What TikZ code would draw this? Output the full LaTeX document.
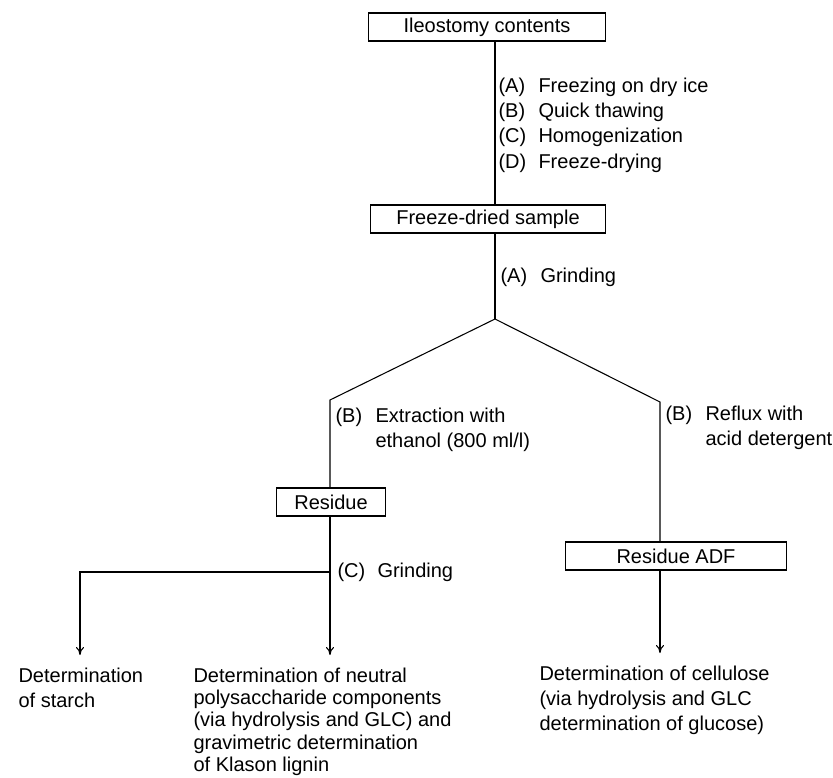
\documentclass[tikz,border=0pt]{standalone}
\usepackage{fontspec}
\setmainfont{Liberation Sans}
\usetikzlibrary{positioning,calc,arrows.meta}
\tikzset{box/.style={draw,line width=0.9pt,minimum height=21pt,inner sep=2pt,align=center},
         steps/.style={anchor=west,align=left,inner sep=0pt},
         result/.style={anchor=north west,align=left,inner sep=0pt}
}
\tikzstyle{arrow} = [line width=0.8pt,-{To[length=6pt,width=6pt]},shorten >=9pt]
\newcommand{\stp}[1]{\makebox[30pt][l]{(#1)}}
\newcommand{\stpgap}{\hspace*{30pt}}

\begin{document}
\begin{tikzpicture}[x=0.75pt,y=-0.75pt,line width=0.8pt,
    every node/.style={font=\fontsize{15}{19}\selectfont}]
\useasboundingbox (0,0) rectangle (833,778);

\node[box,minimum width=178pt] (ileo) at (487,27) {Ileostomy contents};
\node[box,minimum width=176pt] (dried) at (488,219) {Freeze-dried sample};
\coordinate (apex) at (495,319);
\coordinate (lbend) at (330,400);
\coordinate (rbend) at (660,402);
\node[box,minimum width=82pt] (resid) at (331,502) {Residue};
\node[box,minimum width=166pt] (adf) at (676,556) {Residue ADF};
\coordinate (sdrop) at (80,572);

\node[steps] (prep) at (498,125) {\stp{A}Freezing on dry ice\\\stp{B}Quick thawing\\\stp{C}Homogenization\\\stp{D}Freeze-drying};
\node[steps] (grindA) at (500,277) {\stp{A}Grinding};
\node[steps] (extr) at (335,430) {\stp{B}Extraction with\\\stpgap ethanol (800 ml/l)};
\node[steps] (reflux) at (665,428) {\stp{B}Reflux with\\\stpgap acid detergent};
\node[steps] (grindC) at (337,572) {\stp{C}Grinding};

\node[result] (starch) at (18,667) {Determination\\of starch};
\node[result,font=\fontsize{15}{16.8}\selectfont] (neutral) at (193,667) {Determination of neutral\\polysaccharide components\\(via hydrolysis and GLC) and\\gravimetric determination\\of Klason lignin};
\node[result] (cellul) at (539,665) {Determination of cellulose\\(via hydrolysis and GLC\\determination of glucose)};

\draw (ileo.south -| apex) -- (dried.north -| apex);
\draw (dried.south -| apex) -- (apex);
\draw (apex) -- (lbend) -- (resid.north -| lbend);
\draw (apex) -- (rbend) -- (adf.north -| rbend);
\draw[arrow] (resid.south -| lbend) -- (lbend |- neutral.north);
\draw[arrow] (lbend |- sdrop) -- (sdrop) -- (sdrop |- starch.north);
\draw[arrow] (adf.south -| rbend) -- (rbend |- cellul.north);

\end{tikzpicture}
\end{document}
